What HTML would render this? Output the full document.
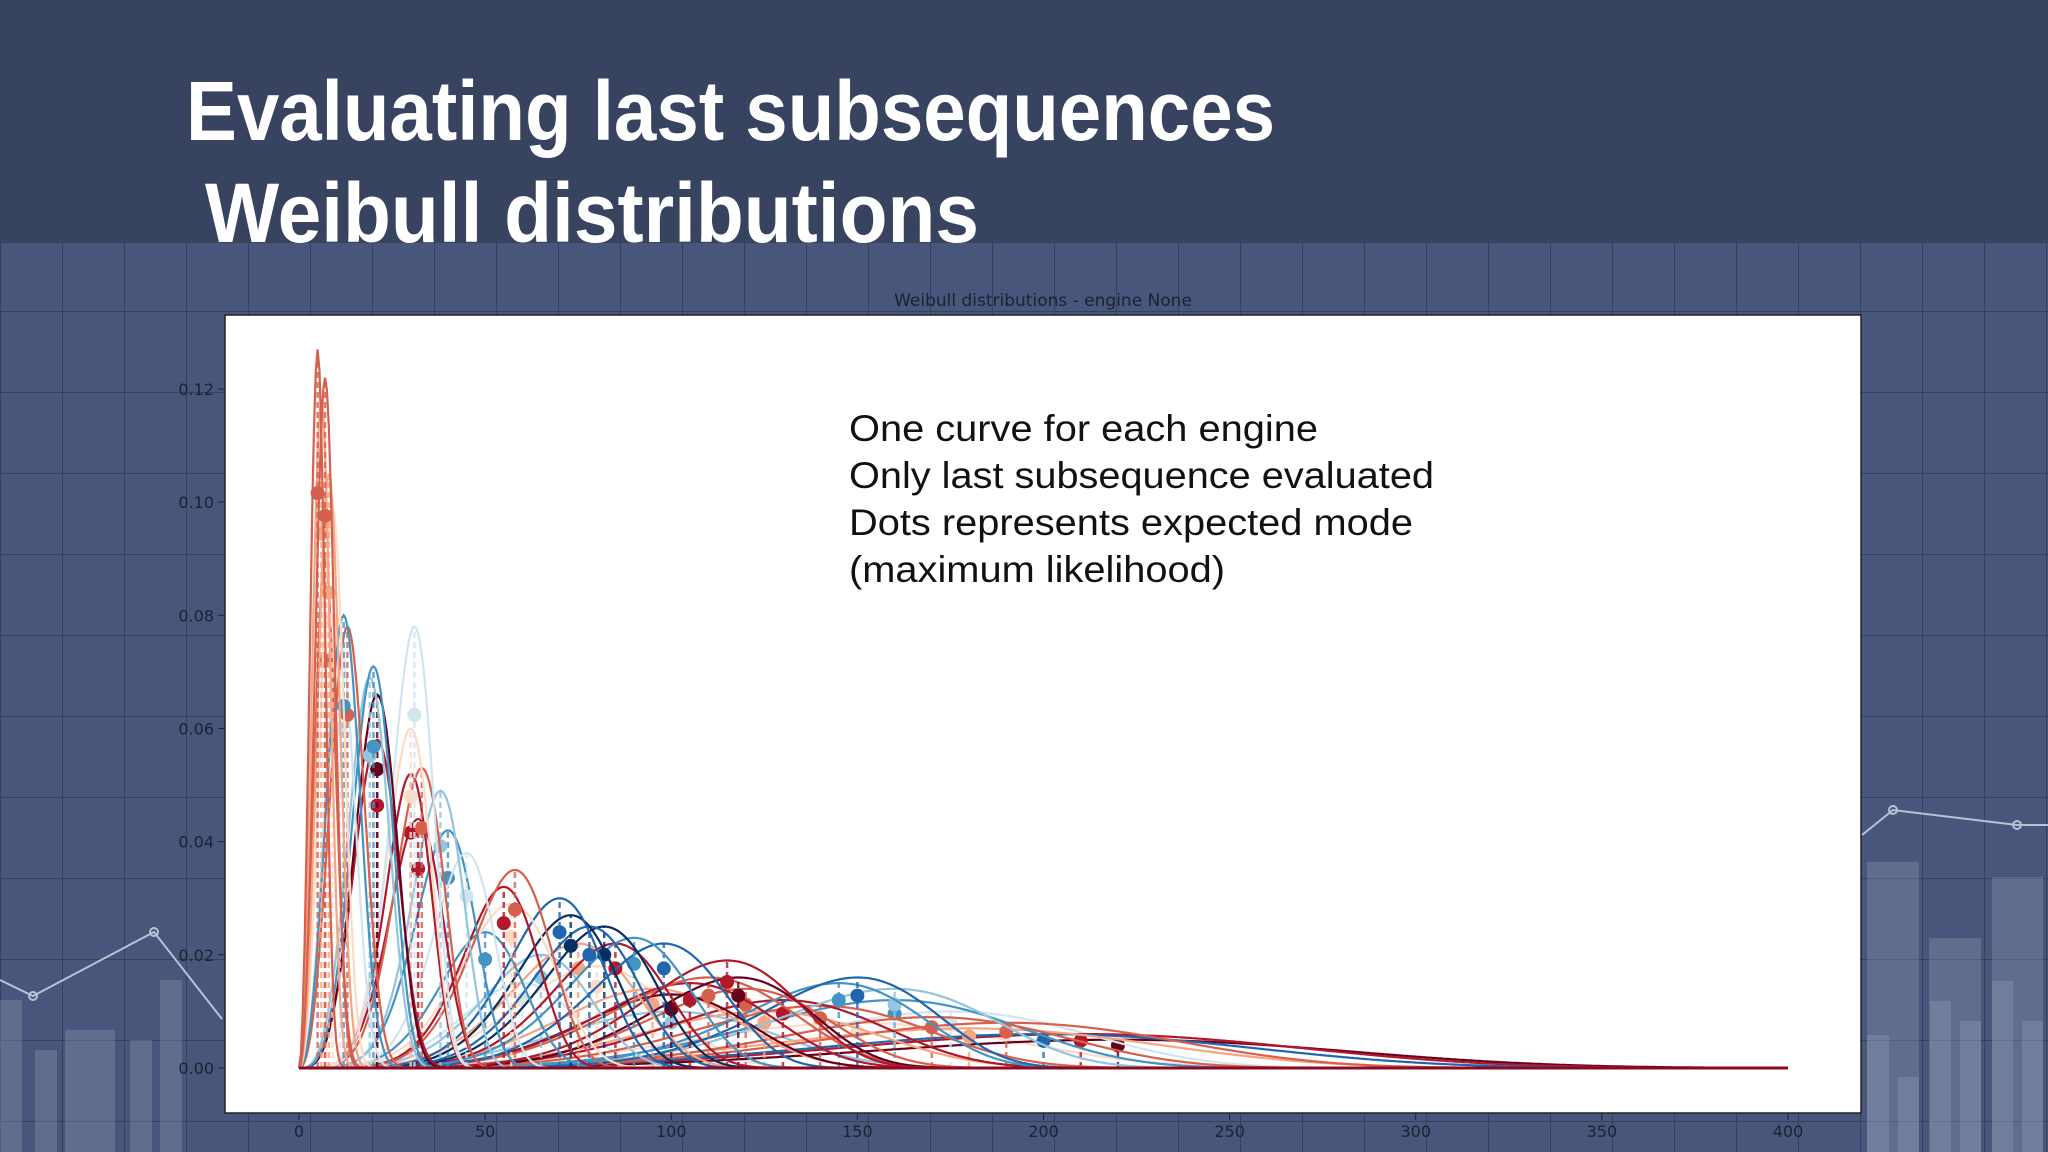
<!DOCTYPE html>
<html><head><meta charset="utf-8"><style>
html,body{margin:0;padding:0;width:2048px;height:1152px;overflow:hidden;background:#46557a}
svg{display:block}
</style></head><body>
<svg id="root" width="2048" height="1152" viewBox="0 0 2048 1152" xmlns="http://www.w3.org/2000/svg">
<defs>
<pattern id="grid" width="62" height="81" patternUnits="userSpaceOnUse" x="0" y="68">
<path d="M0 0H62M0 0V81" stroke="#34405c" stroke-width="2" fill="none"/>
</pattern>
</defs>
<rect width="2048" height="1152" fill="#47567a"/>
<rect width="2048" height="243" fill="#37435f"/>
<rect width="2048" height="1152" fill="url(#grid)"/>
<g id="deco" fill="#8f9ab5" fill-opacity="0.35"></g>
<g fill="none" stroke="#b8c1d6" stroke-width="2">
<polyline points="0,980 33,996 154,932 222,1019"/>
<circle cx="33" cy="996" r="4"/><circle cx="154" cy="932" r="4"/>
<polyline points="1862,835 1893,810 2017,825 2048,825"/>
<circle cx="1893" cy="810" r="4"/><circle cx="2017" cy="825" r="4"/>
</g>
<text x="186" y="140" textLength="1089" lengthAdjust="spacingAndGlyphs" font-family="Liberation Sans, sans-serif" font-weight="bold" font-size="84" fill="#ffffff">Evaluating last subsequences</text>
<text x="205" y="242" textLength="774" lengthAdjust="spacingAndGlyphs" font-family="Liberation Sans, sans-serif" font-weight="bold" font-size="84" fill="#ffffff">Weibull distributions</text>
<text x="1043" y="306" text-anchor="middle" font-family="DejaVu Sans, sans-serif" font-size="17" fill="#1b2233">Weibull distributions - engine None</text>
<rect x="225" y="315" width="1636" height="798" fill="#ffffff" stroke="#222" stroke-width="1.5"/>
<g id="curves"></g>
<g id="axes" font-family="DejaVu Sans, sans-serif" font-size="16" fill="#1b2233"></g>
<g font-family="Liberation Sans, sans-serif" font-size="37" fill="#111" lengthAdjust="spacingAndGlyphs">
<text x="849" y="441" textLength="469" lengthAdjust="spacingAndGlyphs">One curve for each engine</text>
<text x="849" y="488" textLength="585" lengthAdjust="spacingAndGlyphs">Only last subsequence evaluated</text>
<text x="849" y="535" textLength="564" lengthAdjust="spacingAndGlyphs">Dots represents expected mode</text>
<text x="849" y="582" textLength="376" lengthAdjust="spacingAndGlyphs">(maximum likelihood)</text>
</g>
</svg>
<script>
const modes=[5,7,6,8,9,7,12,13,11,20,19,21,21,31,30,33,30,32,38,45,40,58,55,57,50,70,73,78,82,90,98,85,75,65,115,118,110,105,100,95,120,150,145,160,130,140,125,170,160,190,180,200,210,175,220,150,80,60,100];
const peaks=[0.127,0.122,0.118,0.105,0.099,0.09,0.080,0.078,0.075,0.071,0.069,0.066,0.058,0.078,0.060,0.053,0.052,0.044,0.049,0.038,0.042,0.035,0.032,0.029,0.024,0.030,0.027,0.025,0.025,0.023,0.022,0.022,0.022,0.020,0.019,0.016,0.016,0.015,0.013,0.014,0.014,0.016,0.015,0.014,0.012,0.011,0.010,0.009,0.012,0.008,0.007,0.006,0.006,0.010,0.005,0.008,0.018,0.015,0.010];
const shapes=[3,3.2,3,3.2,3.3,3,3.2,3.3,3.2,4.2,4,4.2,4,6,5.5,5.5,5.5,5,6,6,5.5,6,6,5,5,6,6,6,6,6,6,6,5,5,6,6,5,5,5,4.5,5.5,7,6.5,6,5,5,4.5,5,5,4.5,4,4,4,5,4,4,4.5,4.5,4];
const colors=['#d6604d','#d6604d','#f4a582','#f4a582','#fddbc7','#d6604d','#4393c3','#d6604d','#d1e5f0','#4393c3','#92c5de','#67001f','#b2182b','#d1e5f0','#fddbc7','#d6604d','#b2182b','#b2182b','#92c5de','#d1e5f0','#4393c3','#d6604d','#b2182b','#fddbc7','#4393c3','#2166ac','#053061','#2166ac','#053061','#4393c3','#2166ac','#b2182b','#f4a582','#92c5de','#b2182b','#67001f','#d6604d','#b2182b','#67001f','#f4a582','#d6604d','#2166ac','#4393c3','#92c5de','#b2182b','#d6604d','#f4a582','#d6604d','#4393c3','#d6604d','#f4a582','#2166ac','#b2182b','#d1e5f0','#67001f','#fddbc7','#fddbc7','#d1e5f0','#92c5de'];
const xTicks=[0,50,100,150,200,250,300,350,400];
const yTicks=[0,0.02,0.04,0.06,0.08,0.10,0.12];
const yTickLabels=['0.00','0.02','0.04','0.06','0.08','0.10','0.12'];
const decoBars=[[0,1000,22],[35,1050,22],[65,1030,50],[130,1040,22],[160,980,22],[1867,862,52],[1929,938,52],[1992,877,51],[1867,1035,22],[1898,1077,21],[1930,1001,21],[1960,1021,21],[1992,981,21],[2022,1021,21]];
const NS='http://www.w3.org/2000/svg';
const X=v=>299+v*(1788-299)/400;
const Y=v=>1068-v*(1068-389)/0.12;
const deco=document.getElementById('deco');
decoBars.forEach(b=>{const r=document.createElementNS(NS,'rect');
r.setAttribute('x',b[0]);r.setAttribute('y',b[1]);r.setAttribute('width',b[2]);r.setAttribute('height',1152-b[1]);


deco.appendChild(r);});
const cg=document.getElementById('curves');
const order=modes.map((m,i)=>i).reverse();
order.forEach(i=>{
 const m=modes[i],p=peaks[i],k=shapes[i];
 const lam=m/Math.pow((k-1)/k,1/k);
 const g=x=>x<=0?0:Math.pow(x/m,k-1)*Math.exp(-(Math.pow(x/lam,k)-Math.pow(m/lam,k)));
 let d='';
 for(let x=0;x<=400;x+=0.5){d+=(x?'L':'M')+X(x).toFixed(1)+' '+Y(p*g(x)).toFixed(1);}
 const pa=document.createElementNS(NS,'path');
 pa.setAttribute('d',d);pa.setAttribute('fill','none');pa.setAttribute('stroke',colors[i]);pa.setAttribute('stroke-width','2.2');
 
 
 cg.appendChild(pa);
 const ln=document.createElementNS(NS,'line');
 ln.setAttribute('x1',X(m));ln.setAttribute('x2',X(m));ln.setAttribute('y1',Y(0));ln.setAttribute('y2',Y(p));
 ln.setAttribute('stroke',colors[i]);ln.setAttribute('stroke-width','2.5');ln.setAttribute('stroke-dasharray','6 4');ln.setAttribute('opacity','0.8');
 
 
 cg.appendChild(ln);
 const c=document.createElementNS(NS,'circle');
 c.setAttribute('cx',X(m));c.setAttribute('cy',Y(p*0.8));c.setAttribute('r','7');c.setAttribute('fill',colors[i]);
 
 
 cg.appendChild(c);
});
const base=document.createElementNS(NS,'line');
base.setAttribute('x1',X(0));base.setAttribute('x2',X(400));base.setAttribute('y1',Y(0));base.setAttribute('y2',Y(0));base.setAttribute('stroke','#8b0a22');base.setAttribute('stroke-width','3');


cg.appendChild(base);
const ax=document.getElementById('axes');
xTicks.forEach(v=>{
 const t=document.createElementNS(NS,'line');t.setAttribute('x1',X(v));t.setAttribute('x2',X(v));t.setAttribute('y1',1113);t.setAttribute('y2',1120);t.setAttribute('stroke','#1b2233');
 
 
 ax.appendChild(t);
 const s=document.createElementNS(NS,'text');s.setAttribute('x',X(v));s.setAttribute('y',1137);s.setAttribute('text-anchor','middle');s.textContent=v;
 
 
 ax.appendChild(s);
});
yTicks.forEach((v,i)=>{
 const t=document.createElementNS(NS,'line');t.setAttribute('x1',218);t.setAttribute('x2',225);t.setAttribute('y1',Y(v));t.setAttribute('y2',Y(v));t.setAttribute('stroke','#1b2233');
 
 
 ax.appendChild(t);
 const s=document.createElementNS(NS,'text');s.setAttribute('x',214);s.setAttribute('y',Y(v)+6);s.setAttribute('text-anchor','end');s.textContent=yTickLabels[i];
 
 
 ax.appendChild(s);
});
</script>
</body></html>
